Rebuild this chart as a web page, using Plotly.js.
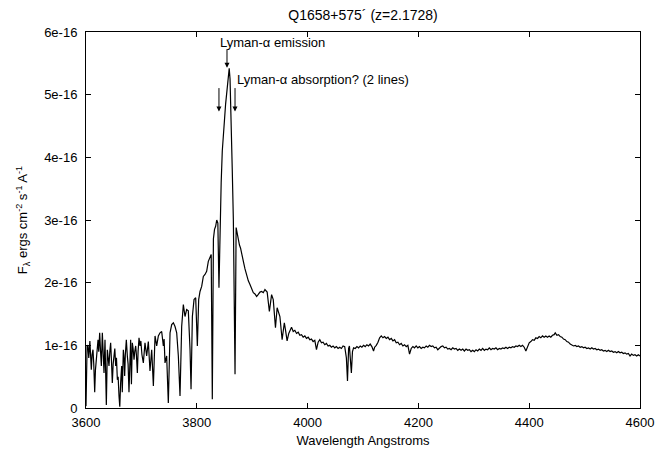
<!DOCTYPE html>
<html>
<head>
<meta charset="utf-8">
<script src="https://cdn.plot.ly/plotly-3.0.1.min.js"></script>
<style>html,body{margin:0;padding:0;background:#fff;}#chart{width:657px;height:451px;}</style>
</head>
<body>
<div id="chart"></div>
<script>
// Wavelength (Angstroms)
const wavelength = [
3600,3601,3602,3603.6,3605,3607,3609.6,3611,3612.6,3614,
3615.7,3617,3618.7,3620,3621.7,3623,3624.7,3626,3627.7,3629.5,
3631,3632.5,3634.3,3635.5,3636.7,3638.5,3640,3641.5,3643,3644.5,
3646,3647.5,3649,3650.6,3652,3653.6,3655,3656.6,3658,3659.6,
3661,3662.5,3664.4,3665.5,3667.4,3669,3669.8,3671,3672.8,3674.6,
3676,3677.6,3679,3680.6,3682,3683.6,3685,3686.7,3688,3689.7,
3691,3692.7,3694,3695.7,3697.5,3699,3701,3703.5,3706.5,3709.5,
3712.5,3715.5,3718.6,3721.6,3724.6,3727.6,3730.6,3733.6,3736.6,3739.6,
3741,3742.6,3745.6,3748.6,3751.7,3754.7,3757.7,3760.7,3763.7,3766.7,
3769.7,3772.7,3775.7,3778.7,3781.7,3784.7,3787.8,3789.6,3792,3795,
3798,3801,3803.4,3805.8,3808.8,3811.8,3814.8,3817.8,3820.8,3823.9,
3826,3828,3830,3832,3834,3836,3838,3840,3842,3844,
3846,3848,3850,3852,3854,3856,3858.5,3860,3862,3864,
3866,3869,3871,3873,3875,3877,3879,3881,3883,3885,
3887,3889,3891,3893,3896,3899,3902,3905,3908,3910,
3912,3914,3917,3920,3923,3925,3927,3931,3935,3938,
3942,3945,3950,3954,3958,3960,3963,3966,3969,3971,
3974,3977,3980,3983,3986,3989,3992,3995,3998,4001,
4004,4007,4010,4013,4016,4019,4022,4025,4028,4031,
4034,4037,4040,4043,4046,4049,4052,4055,4058,4061,
4064,4067,4070,4072,4074,4075.5,4077,4079,4081,4083,
4086,4089,4092,4095,4098,4101,4104,4107,4110,4113,
4116,4119,4121,4124,4127,4130,4133,4136,4139,4142,
4145,4148,4151,4154,4157,4160,4163,4166,4169,4172,
4175,4178,4181,4184,4187,4190,4193,4196,4199,4202,
4205,4208,4211,4214,4217,4220,4223,4226,4229,4232,
4235,4238,4241,4244,4247,4250,4253,4256,4259,4262,
4265,4268,4271,4274,4277,4280,4283,4286,4289,4292,
4295,4298,4301,4304,4307,4310,4313,4316,4319,4322,
4325,4328,4331,4334,4337,4340,4343,4346,4349,4352,
4355,4358,4361,4364,4367,4370,4373,4376,4379,4382,
4385,4388,4391,4394,4397,4400,4403,4406,4409,4412,
4415,4418,4421,4424,4427,4430,4433,4436,4439,4442,
4445,4447,4450,4453,4456,4459,4462,4465,4468,4471,
4474,4477,4480,4483,4486,4489,4492,4495,4498,4501,
4504,4507,4510,4513,4516,4519,4522,4525,4528,4531,
4534,4537,4540,4543,4546,4549,4552,4555,4558,4561,
4564,4567,4570,4573,4576,4579,4582,4585,4588,4591,
4594,4597,4600
];
// Flux in units of 1e-16 ergs cm^-2 s^-1 A^-1
const flux_e16 = [
0.03,0.61,1.0,0.99,0.8,1.07,0.61,0.85,0.93,0.7,
0.25,0.6,0.77,0.95,1.09,0.9,1.2,0.95,0.67,1.2,
0.85,0.56,1.09,0.7,0.05,0.93,0.8,0.67,0.9,1.04,
0.75,0.4,0.7,0.88,0.95,0.67,0.8,0.45,0.5,0.19,
0.02,0.4,0.67,0.25,0.93,0.75,0.51,0.85,1.09,0.83,
0.7,0.25,0.8,1.09,0.38,1.04,0.95,0.77,0.9,0.99,
0.85,0.56,0.9,1.12,0.99,1.07,0.85,0.72,1.04,0.83,
1.06,0.59,0.93,0.35,1.15,0.99,1.15,1.2,1.22,0.99,
1.1,0.72,0.83,0.08,1.2,1.33,1.36,1.3,1.2,0.83,
0.19,1.3,1.65,1.46,1.57,1.55,0.93,0.3,1.46,1.73,
1.76,0.99,1.73,1.86,1.94,2.1,2.13,2.18,2.34,2.4,
2.45,0.14,2.7,2.85,2.9,3.0,2.95,1.92,3.05,3.6,
4.1,4.45,4.6,4.85,5.0,5.2,5.42,5.25,4.7,3.8,
3.0,0.54,2.88,2.78,2.72,2.6,2.55,2.45,2.4,2.3,
2.22,2.15,2.08,2.03,1.97,1.9,1.84,1.82,1.78,1.8,
1.83,1.85,1.86,1.84,1.89,1.87,1.85,1.54,1.81,1.73,
1.28,1.6,1.46,1.09,1.36,1.25,1.07,1.19,1.24,1.29,
1.22,1.24,1.19,1.21,1.16,1.17,1.13,1.15,1.11,1.13,
1.09,1.1,1.06,1.08,0.93,1.05,1.09,1.04,1.05,1.01,
1.03,0.99,1.0,0.97,0.99,0.96,0.98,0.95,0.97,0.95,
0.99,0.98,0.8,0.43,0.95,0.99,0.8,0.56,0.9,0.96,
0.95,0.98,0.96,0.99,0.97,1.0,0.98,1.01,0.99,1.02,
0.98,0.91,0.97,1.0,1.05,1.12,1.15,1.12,1.14,1.11,
1.13,1.09,1.11,1.07,1.09,1.04,1.05,1.01,1.03,0.99,
1.01,0.98,1.0,0.86,0.95,0.98,0.96,0.99,0.96,0.98,
0.95,0.97,0.96,0.99,0.97,1.0,0.98,0.99,0.96,0.97,
0.93,0.96,0.98,0.99,0.96,0.97,0.94,0.95,0.93,0.96,
0.94,0.95,0.92,0.94,0.92,0.94,0.91,0.94,0.92,0.93,
0.9,0.92,0.9,0.93,0.91,0.94,0.92,0.95,0.92,0.94,
0.93,0.96,0.93,0.95,0.94,0.96,0.93,0.95,0.94,0.96,
0.95,0.97,0.95,0.97,0.96,0.98,0.97,0.99,0.98,1.0,
0.98,1.0,0.97,0.91,0.99,1.04,1.06,1.09,1.08,1.12,
1.11,1.14,1.12,1.15,1.13,1.15,1.13,1.15,1.13,1.16,
1.17,1.2,1.16,1.17,1.14,1.13,1.1,1.09,1.06,1.05,
1.02,1.01,0.99,1.0,0.98,0.99,0.97,0.98,0.96,0.97,
0.95,0.96,0.94,0.96,0.94,0.95,0.93,0.94,0.92,0.93,
0.91,0.92,0.9,0.92,0.9,0.91,0.89,0.9,0.88,0.9,
0.88,0.89,0.87,0.88,0.86,0.87,0.83,0.86,0.84,0.85,
0.83,0.85,0.83
];
const FLUX_UNIT = 1e-16;
const xTickVals = [3600,3800,4000,4200,4400,4600];
const yTickVals = [0,1e-16,2e-16,3e-16,4e-16,5e-16,6e-16];
const yTickText = ["0","1e-16","2e-16","3e-16","4e-16","5e-16","6e-16"];

const flux = flux_e16.map(v => v * FLUX_UNIT);
const FONT = "Liberation Sans, Arial, Helvetica, sans-serif";
const TXT = {family: FONT, size: 13, color: "#000"};

const trace = {
  x: wavelength, y: flux, type: "scatter", mode: "lines",
  line: {color: "#000", width: 1.2}, hoverinfo: "skip", showlegend: false
};

const axisCommon = {
  showline: true, linecolor: "#000", linewidth: 1, mirror: "ticks",
  ticks: "inside", ticklen: 5, tickcolor: "#000", tickwidth: 1,
  showgrid: false, zeroline: false, tickfont: {family: FONT, size: 13, color: "#000"}
};

const layout = {
  width: 657, height: 451,
  margin: {l: 86, r: 17, t: 32, b: 43},
  paper_bgcolor: "#fff", plot_bgcolor: "#fff",
  font: TXT,
  title: {text: "Q1658+575\u00b4 (z=2.1728)", x: 0.5, xref: "paper", y: 0.967, yanchor: "middle", yref: "container",
          font: {family: FONT, size: 14, color: "#000"}},
  xaxis: Object.assign({}, axisCommon, {
    range: [3600, 4600], tickvals: xTickVals, ticklabelstandoff: 2,
    title: {text: "Wavelength Angstroms", standoff: 7, font: TXT}
  }),
  yaxis: Object.assign({}, axisCommon, {
    range: [0, 6e-16], tickvals: yTickVals, ticktext: yTickText, ticklabelstandoff: 5,
    title: {text: "F<sub>\u03bb</sub> ergs cm<sup>-2</sup> s<sup>-1</sup> A<sup>-1</sup>", standoff: 13, font: TXT}
  }),
  annotations: [
    {x: 3838, y: 5.84e-16, xref: "x", yref: "y", text: "Lyman-\u03b1 emission", showarrow: false,
     xanchor: "left", yanchor: "middle", font: TXT},
    {x: 3854.5, y: 5.43e-16, xref: "x", yref: "y", text: "", showarrow: true, ax: 0, ay: -20,
     arrowhead: 2, arrowsize: 1, arrowwidth: 1, arrowcolor: "#000"},
    {x: 3869, y: 5.24e-16, xref: "x", yref: "y", text: "Lyman-\u03b1 absorption? (2 lines)", showarrow: false,
     xanchor: "left", yanchor: "middle", font: TXT},
    {x: 3840, y: 4.73e-16, xref: "x", yref: "y", text: "", showarrow: true, ax: 0, ay: -25,
     arrowhead: 2, arrowsize: 1, arrowwidth: 1, arrowcolor: "#000"},
    {x: 3869, y: 4.73e-16, xref: "x", yref: "y", text: "", showarrow: true, ax: 0, ay: -25,
     arrowhead: 2, arrowsize: 1, arrowwidth: 1, arrowcolor: "#000"}
  ]
};

if (wavelength.length !== flux_e16.length) console.error("length mismatch", wavelength.length, flux_e16.length);
Plotly.newPlot("chart", [trace], layout, {displayModeBar: false, staticPlot: true});
</script>
</body>
</html>
